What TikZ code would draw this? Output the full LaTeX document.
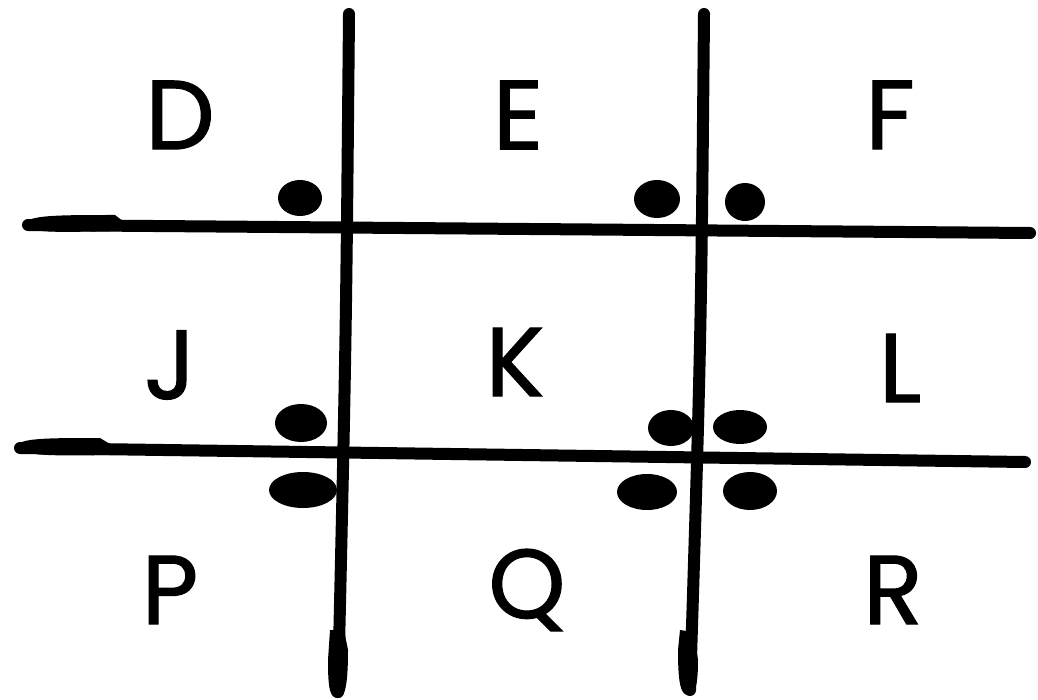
\documentclass[tikz,border=0pt]{standalone}
\usepackage{fontspec}
\setmainfont{Poppins}[FakeBold=1.2]
\begin{document}
\begin{tikzpicture}[x=1pt,y=-1pt,
  grid line/.style={line width=12pt,line cap=round,black},
  blob/.style={fill=black},
  letter/.style={font=\fontsize{98}{98}\selectfont,inner sep=0pt}]
\useasboundingbox (0,0) rectangle (1038,700);
% vertical lines
\coordinate (v1t) at (349,14);
\coordinate (v1m) at (346,340);
\coordinate (v1b) at (338,692);
\coordinate (v2t) at (704,14);
\coordinate (v2m) at (701,340);
\coordinate (v2b) at (690,690);
\draw[grid line] (v1t) .. controls (v1m) .. (v1b);
\draw[grid line] (v2t) .. controls (v2m) .. (v2b);
% horizontal lines
\coordinate (h1l) at (28,225);
\coordinate (h1r) at (1030,233);
\coordinate (h2l) at (20,448);
\coordinate (h2r) at (1025,462);
\draw[grid line] (h1l) -- (h1r);
\draw[grid line] (h2l) -- (h2r);
% thick ends
\fill[blob] (26,224) .. controls (26,215) and (60,215) .. (115,215) -- (124,222) -- (124,231) .. controls (60,232) and (26,234) .. (26,224) -- cycle;
\fill[blob] (18,446) .. controls (18,438) and (50,438) .. (100,438) -- (110,444) -- (110,455) .. controls (50,456) and (18,456) .. (18,446) -- cycle;
\fill[blob] (330,630) -- (344,630) -- (348,650) .. controls (348,690) and (344,698) .. (338,698) .. controls (330,698) and (328,690) .. (328,660) -- cycle;
\fill[blob] (680,630) -- (694,632) -- (698,660) .. controls (698,690) and (694,695) .. (688,695) .. controls (680,695) and (678,680) .. (678,650) -- cycle;
% dots
\fill (300,198) ellipse [x radius=22,y radius=18];
\fill (657,199) ellipse [x radius=23,y radius=19];
\fill (745,202) ellipse [x radius=20,y radius=19];
\fill (301,423) ellipse [x radius=26,y radius=19];
\fill (303,490) ellipse [x radius=34,y radius=18];
\fill (671,428) ellipse [x radius=23,y radius=18];
\fill (740,427) ellipse [x radius=27,y radius=17];
\fill (647,492) ellipse [x radius=30,y radius=18];
\fill (750,491) ellipse [x radius=27,y radius=19];
% letters
\node[letter] (D) at (180,115) {D};
\node[letter] (E) at (518,115) {E};
\node[letter] (F) at (890,115) {F};
\node[letter] (J) at (170,365) {J};
\node[letter] (K) at (515,362) {K};
\node[letter] (L) at (900,368) {L};
\node[letter] (P) at (170,590) {P};
\node[letter] (Q) at (527,590) {Q};
\node[letter] (R) at (893,590) {R};
\end{tikzpicture}
\end{document}
